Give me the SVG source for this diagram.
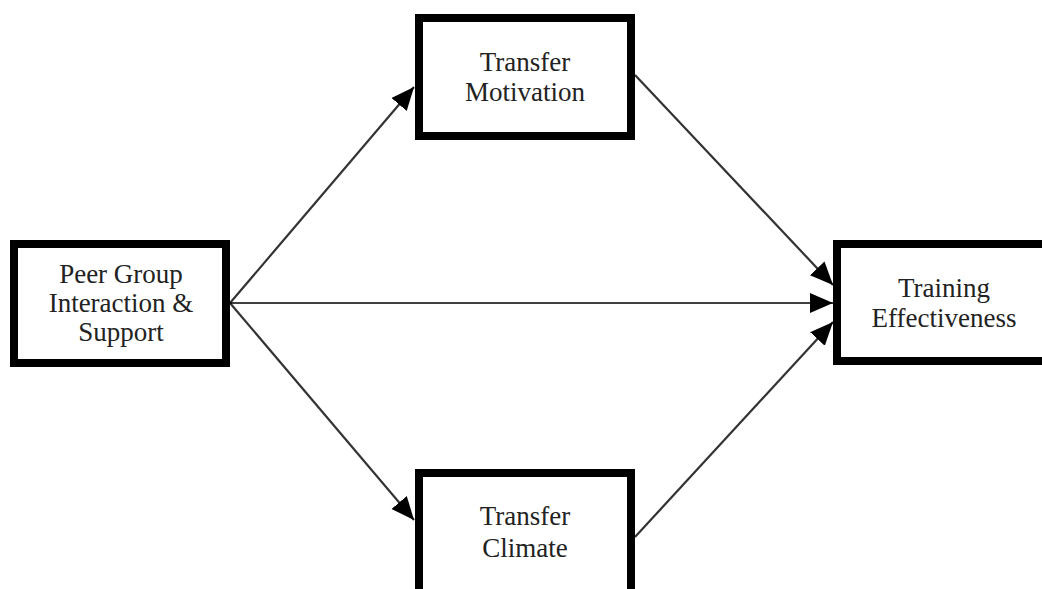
<svg xmlns="http://www.w3.org/2000/svg" width="1042" height="589" viewBox="0 0 1042 589">
<defs>
<style>
.box{fill:#fff;stroke:#000;stroke-width:8}
.lbl{font-family:"Liberation Serif","Times New Roman",serif;font-size:27px;fill:#222;text-anchor:middle}
.conn{stroke:#333;stroke-width:2.2;fill:none;marker-end:url(#ah)}
.straight{stroke:#000;stroke-width:1.6;fill:none;marker-end:url(#ah)}
</style>
<marker id="ah" markerUnits="userSpaceOnUse" markerWidth="26" markerHeight="24" viewBox="0 0 26 24" refX="23" refY="12" orient="auto">
<path d="M0,2 L23,12 L0,22 Z" fill="#000"/>
</marker>
</defs>
<rect width="1042" height="589" fill="#fff"/>
<g id="connectors">
<line class="conn" x1="230" y1="303" x2="414" y2="87"/>
<line class="conn" x1="230" y1="303" x2="414" y2="520"/>
<line class="straight" x1="230" y1="303" x2="833" y2="303"/>
<line class="conn" x1="635" y1="75" x2="833" y2="285"/>
<line class="conn" x1="635" y1="537" x2="833" y2="322"/>
</g>
<g id="peer">
<rect class="box" x="14" y="244" width="212" height="119"/>
<text class="lbl" x="121" y="283">Peer Group</text>
<text class="lbl" x="121" y="312">Interaction &amp;</text>
<text class="lbl" x="121" y="341">Support</text>
</g>
<g id="motivation">
<rect class="box" x="419" y="18" width="212" height="118"/>
<text class="lbl" x="525" y="71">Transfer</text>
<text class="lbl" x="525" y="101">Motivation</text>
</g>
<g id="climate">
<rect class="box" x="419" y="473" width="212" height="130"/>
<text class="lbl" x="525" y="525">Transfer</text>
<text class="lbl" x="525" y="557">Climate</text>
</g>
<g id="effectiveness">
<rect class="box" x="837" y="244" width="215" height="117"/>
<text class="lbl" x="944" y="297">Training</text>
<text class="lbl" x="944" y="327">Effectiveness</text>
</g>
</svg>
